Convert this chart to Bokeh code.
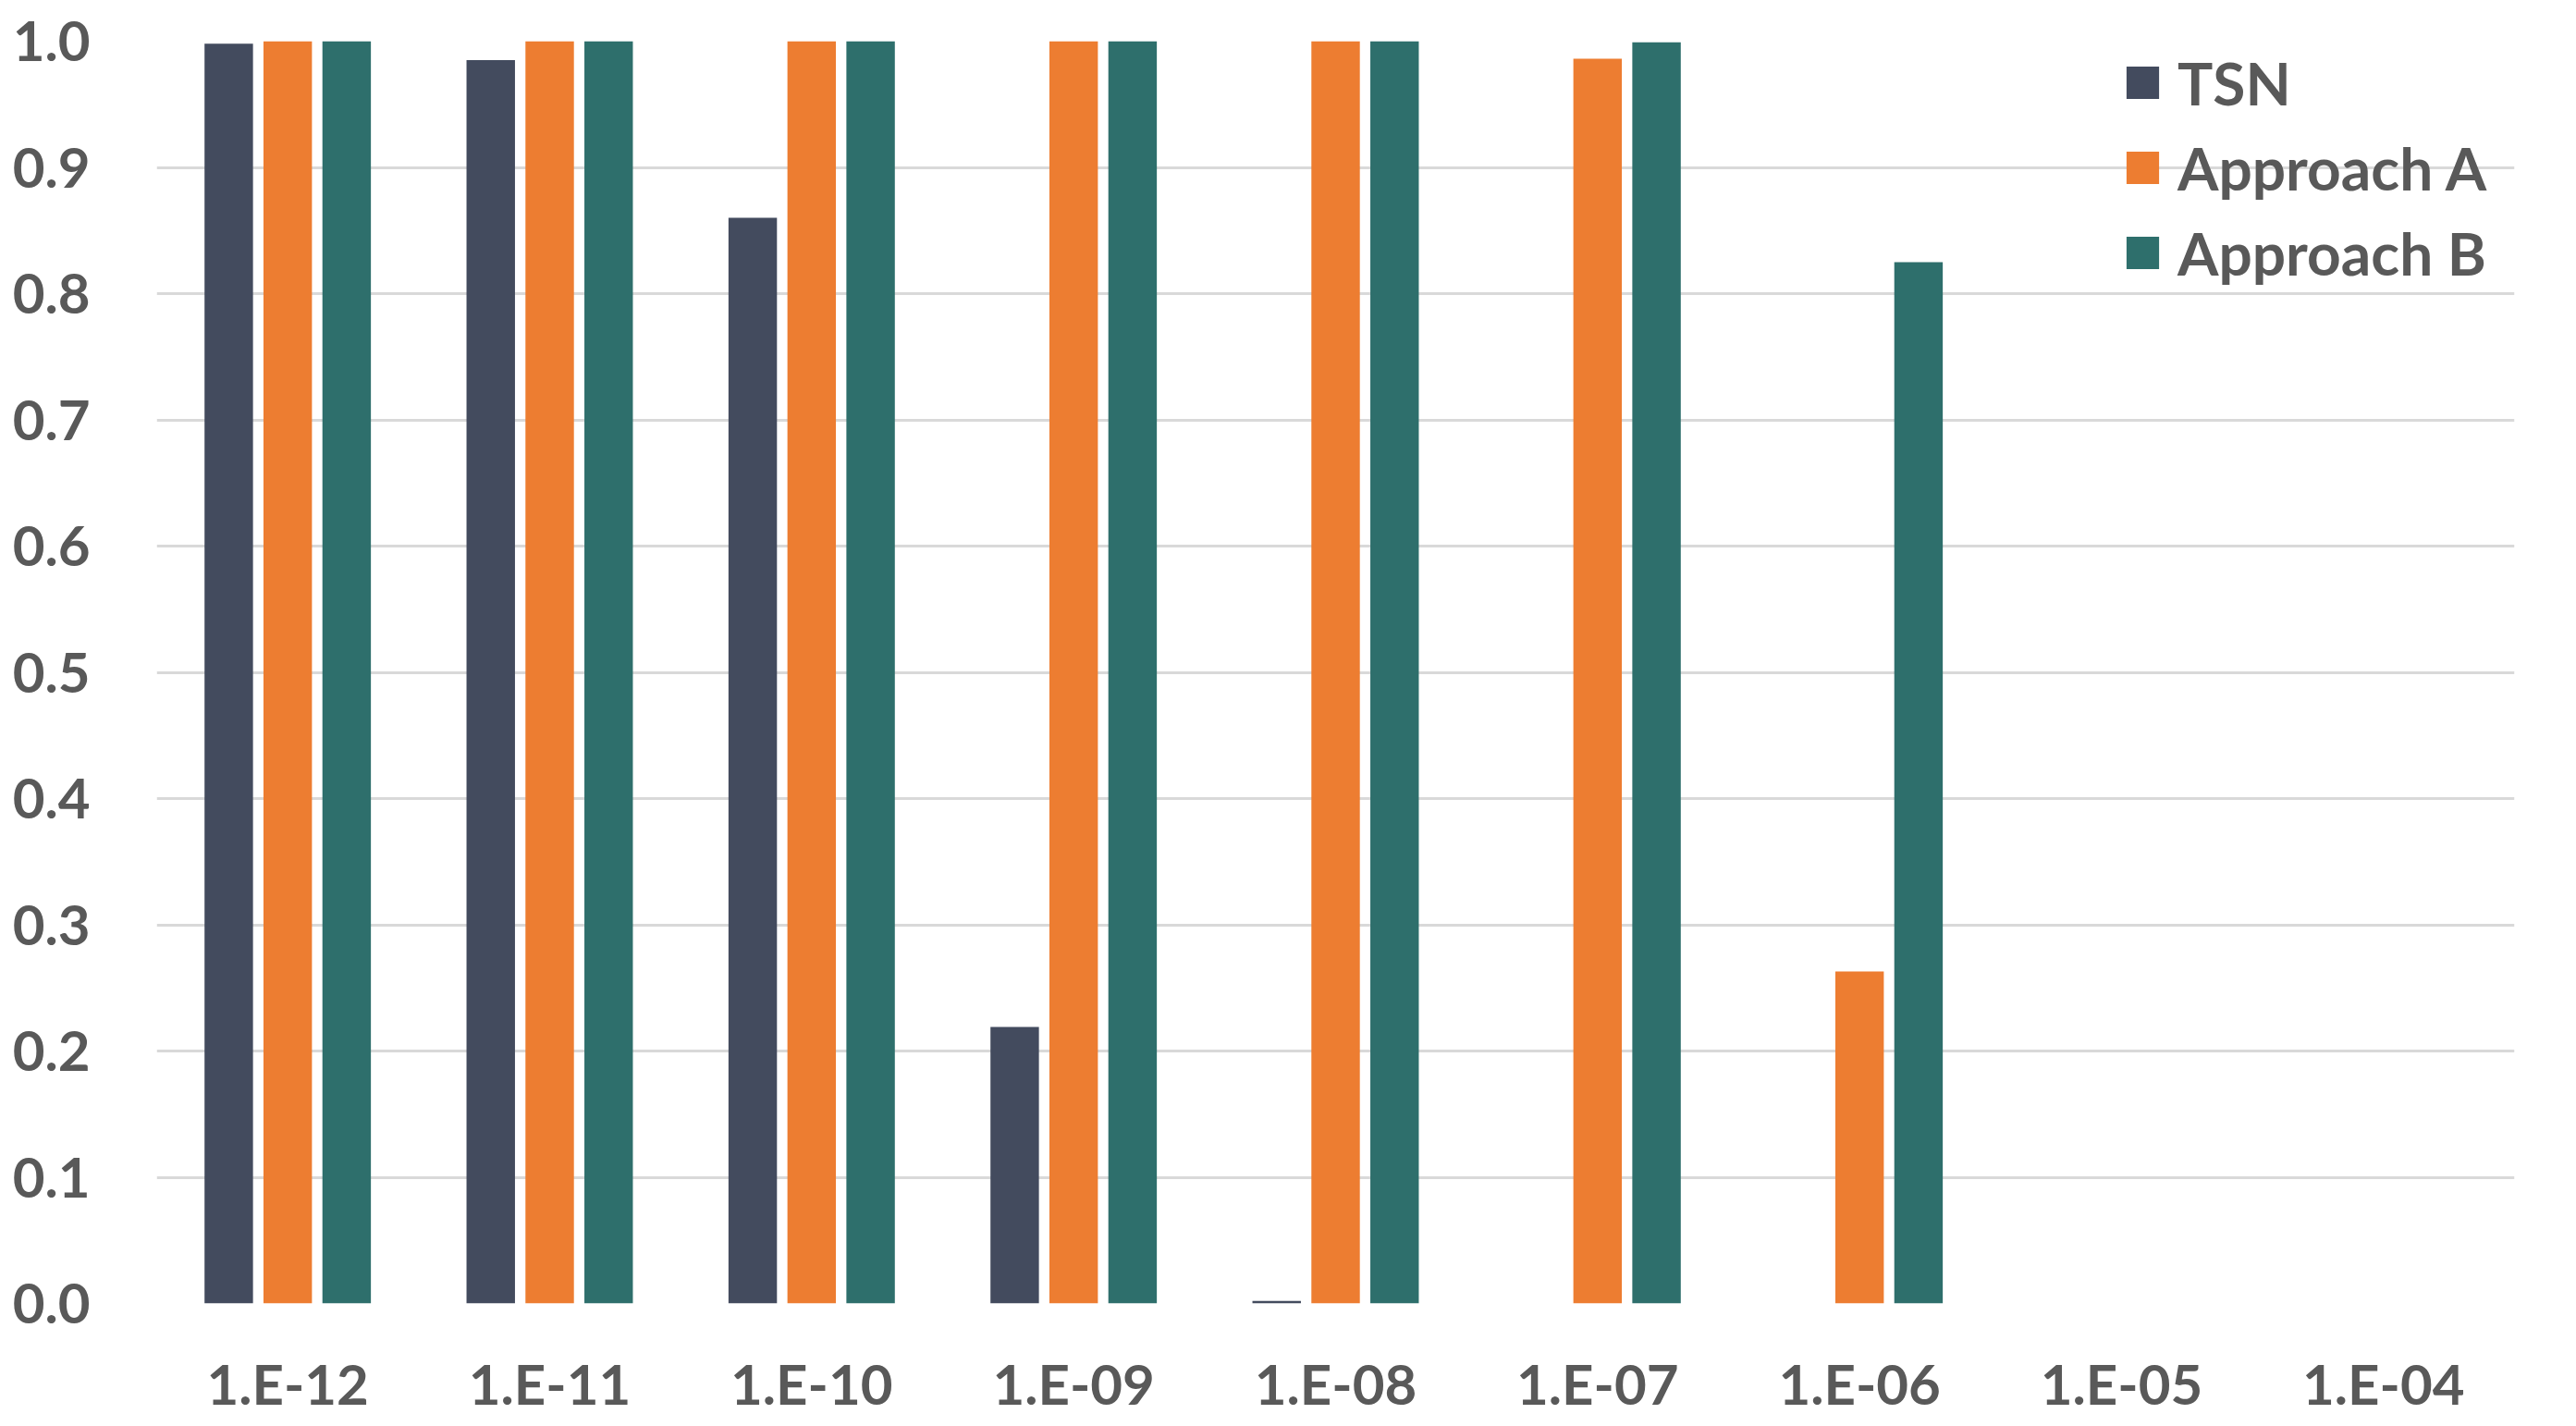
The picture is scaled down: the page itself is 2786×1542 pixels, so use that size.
from bokeh.plotting import figure
from bokeh.models import ColumnDataSource, FactorRange, SingleIntervalTicker, Legend, LegendItem, CustomJSTickFormatter
from bokeh.transform import dodge
from bokeh.embed import file_html
from bokeh.resources import INLINE

categories = ["1.E-12", "1.E-11", "1.E-10", "1.E-09", "1.E-08", "1.E-07", "1.E-06", "1.E-05", "1.E-04"]
tsn = [0.998, 0.985, 0.860, 0.219, 0.002, 0.0, 0.0, 0.0, 0.0]
approach_a = [1.0, 1.0, 1.0, 1.0, 1.0, 0.986, 0.263, 0.0, 0.0]
approach_b = [1.0, 1.0, 1.0, 1.0, 1.0, 0.999, 0.825, 0.0, 0.0]
series_names = ["TSN", "Approach A", "Approach B"]
colors = ["#434B5E", "#ED7D31", "#2E6F6C"]

src = ColumnDataSource(dict(cat=categories, tsn=tsn, a=approach_a, b=approach_b))

FONT = "Lato"
TEXT = "#595959"

p = figure(width=2778, height=1534, x_range=FactorRange(*categories, range_padding=0),
           y_range=(0, 1.0), output_backend="svg", toolbar_location=None,
           min_border_left=169, min_border_right=59, min_border_top=44, min_border_bottom=125)
p.outline_line_color = None
p.background_fill_color = "white"

w = 0.185
r1 = p.vbar(x=dodge("cat", -0.225, range=p.x_range), top="tsn", width=w, source=src, color=colors[0], line_color=None)
r2 = p.vbar(x=dodge("cat", 0.0, range=p.x_range), top="a", width=w, source=src, color=colors[1], line_color=None)
r3 = p.vbar(x=dodge("cat", 0.225, range=p.x_range), top="b", width=w, source=src, color=colors[2], line_color=None)

p.yaxis.ticker = SingleIntervalTicker(interval=0.1)
p.yaxis.formatter = CustomJSTickFormatter(code="return tick.toFixed(1);")

for ax in (p.xaxis[0], p.yaxis[0]):
    ax.axis_line_color = None
    ax.major_tick_line_color = None
    ax.minor_tick_line_color = None
    ax.major_label_text_font = FONT
    ax.major_label_text_font_style = "bold"
    ax.major_label_text_font_size = "60px"
    ax.major_label_text_color = TEXT
p.yaxis.major_label_standoff = 66
p.xaxis.major_label_standoff = 44

p.xgrid.grid_line_color = None
p.ygrid.grid_line_color = "#D9D9D9"
p.ygrid.grid_line_width = 3
p.ygrid.level = "underlay"

legend = Legend(items=[LegendItem(label=series_names[0], renderers=[r1]),
                       LegendItem(label=series_names[1], renderers=[r2]),
                       LegendItem(label=series_names[2], renderers=[r3])],
                location=(2126, 1096))
legend.background_fill_alpha = 0
legend.border_line_color = None
legend.padding = 0
legend.margin = 0
legend.glyph_width = 44
legend.glyph_height = 44
legend.label_height = 80
legend.spacing = 12
legend.label_standoff = 16
legend.label_text_font = FONT
legend.label_text_font_style = "bold"
legend.label_text_font_size = "64px"
legend.label_text_color = TEXT
p.add_layout(legend, "center")

open("out.html", "w").write(file_html(p, INLINE))
